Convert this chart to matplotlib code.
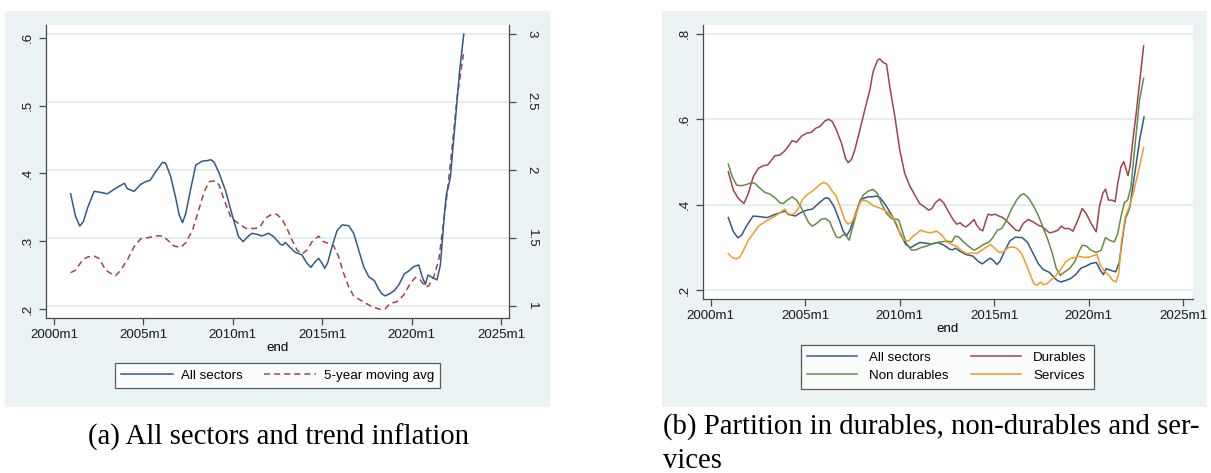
import matplotlib
matplotlib.use('Agg')
import matplotlib.pyplot as plt
from matplotlib.patches import Rectangle

W, H = 1211, 473

# All sectors (left axis of panel a, and panel b)
all_x = [2000.93, 2001.2, 2001.44, 2001.64, 2001.87, 2002.24, 2002.61, 2002.99, 2003.36, 2003.83,
         2003.94, 2004.1, 2004.48, 2004.85, 2005.13, 2005.38, 2005.69, 2006.07, 2006.25, 2006.53,
         2006.81, 2007.0, 2007.19, 2007.37, 2007.65, 2007.93, 2008.31, 2008.59, 2008.77, 2008.96,
         2009.24, 2009.61, 2009.99, 2010.32, 2010.58, 2010.88, 2011.07, 2011.35, 2011.63, 2012.0,
         2012.28, 2012.66, 2012.81, 2012.94, 2013.21, 2013.49, 2013.87, 2014.15, 2014.37, 2014.61,
         2014.8, 2014.99, 2015.14, 2015.31, 2015.55, 2015.83, 2016.11, 2016.48, 2016.76, 2017.04,
         2017.32, 2017.6, 2017.92, 2018.16, 2018.35, 2018.53, 2018.81, 2019.03, 2019.28, 2019.59,
         2019.84, 2020.12, 2020.4, 2020.59, 2020.77, 2020.92, 2021.14, 2021.42, 2021.61, 2021.84,
         2021.95, 2022.05, 2022.17, 2022.45, 2022.69, 2022.92]
all_y = [0.370, 0.337, 0.3227, 0.329, 0.3487, 0.3737, 0.3722, 0.370, 0.3767, 0.384,
         0.3855, 0.3777, 0.3737, 0.384, 0.388, 0.390, 0.4027, 0.4164, 0.415, 0.3953,
         0.3634, 0.339, 0.3276, 0.3413, 0.378, 0.4125, 0.4184, 0.419, 0.4204, 0.4164,
         0.4003, 0.3733, 0.3364, 0.307, 0.2996, 0.308, 0.3119, 0.3104, 0.308, 0.3119,
         0.307, 0.2957, 0.2947, 0.2986, 0.2908, 0.2839, 0.28, 0.2677, 0.2618, 0.2702,
         0.275, 0.2677, 0.2603, 0.2687, 0.2922, 0.3158, 0.3242, 0.3232, 0.3119, 0.2873,
         0.2628, 0.248, 0.2421, 0.2294, 0.2225, 0.2196, 0.2235, 0.2274, 0.2357, 0.252,
         0.2564, 0.2628, 0.2652, 0.248, 0.2367, 0.2505, 0.2471, 0.2432, 0.2652, 0.3413,
         0.370, 0.380, 0.395, 0.4788, 0.5524, 0.6054]

# 5-year moving average (right axis of panel a)
trend_x = [2000.93, 2001.21, 2001.59, 2001.87, 2002.24, 2002.52, 2002.89, 2003.17, 2003.45, 2003.73,
           2004.1, 2004.48, 2004.85, 2005.32, 2005.79, 2006.07, 2006.35, 2006.72, 2007.09, 2007.37,
           2007.75, 2008.12, 2008.4, 2008.68, 2009.01, 2009.24, 2009.52, 2009.89, 2010.26, 2010.73,
           2011.25, 2011.53, 2011.81, 2012.19, 2012.47, 2012.75, 2013.03, 2013.31, 2013.59, 2013.87,
           2014.15, 2014.43, 2014.8, 2015.08, 2015.36, 2015.64, 2015.92, 2016.2, 2016.48, 2016.76,
           2017.13, 2017.51, 2017.88, 2018.26, 2018.53, 2018.81, 2019.18, 2019.56, 2019.93, 2020.21,
           2020.49, 2020.77, 2020.96, 2021.24, 2021.52, 2021.71, 2021.99, 2022.27, 2022.55, 2022.9]
trend_y = [1.245, 1.264, 1.338, 1.36, 1.367, 1.35, 1.264, 1.24, 1.223, 1.264,
           1.338, 1.436, 1.494, 1.504, 1.516, 1.514, 1.485, 1.44, 1.431, 1.465,
           1.558, 1.717, 1.839, 1.913, 1.92, 1.888, 1.778, 1.651, 1.612, 1.57,
           1.570, 1.582, 1.644, 1.675, 1.673, 1.639, 1.57, 1.485, 1.411, 1.382,
           1.411, 1.472, 1.514, 1.472, 1.46, 1.443, 1.362, 1.24, 1.142, 1.073,
           1.044, 1.015, 0.99, 0.976, 0.98, 1.02, 1.032, 1.081, 1.166, 1.21,
           1.191, 1.142, 1.149, 1.215, 1.338, 1.534, 1.827, 2.17, 2.537, 2.85]

dur_x = [2000.93, 2001.2, 2001.46, 2001.76, 2001.99, 2002.25, 2002.52, 2002.78, 2003.01, 2003.22,
         2003.4, 2003.66, 2003.93, 2004.19, 2004.31, 2004.54, 2004.81, 2005.07, 2005.33, 2005.55,
         2005.77, 2006.04, 2006.25, 2006.43, 2006.65, 2006.92, 2007.13, 2007.27, 2007.45, 2007.62,
         2007.89, 2008.15, 2008.42, 2008.59, 2008.82, 2008.94, 2009.12, 2009.3, 2009.47, 2009.74,
         2010.0, 2010.26, 2010.53, 2010.8, 2011.05, 2011.35, 2011.53, 2011.7, 2011.88, 2012.11,
         2012.32, 2012.58, 2012.84, 2013.02, 2013.19, 2013.37, 2013.51, 2013.72, 2013.93, 2014.07,
         2014.25, 2014.39, 2014.56, 2014.68, 2014.86, 2015.04, 2015.21, 2015.44, 2015.65, 2015.91,
         2016.14, 2016.32, 2016.53, 2016.79, 2017.05, 2017.32, 2017.54, 2017.75, 2017.93, 2018.14,
         2018.37, 2018.54, 2018.72, 2018.95, 2019.16, 2019.42, 2019.65, 2019.86, 2020.12, 2020.39,
         2020.56, 2020.74, 2020.88, 2021.04, 2021.23, 2021.39, 2021.53, 2021.7, 2021.85, 2022.07,
         2022.18, 2022.35, 2022.5, 2022.68, 2022.9]
dur_y = [0.4773, 0.4344, 0.4148, 0.4031, 0.4266, 0.4656, 0.4852, 0.4914, 0.493, 0.5047,
         0.5148, 0.5164, 0.5266, 0.5422, 0.55, 0.5461, 0.5609, 0.5672, 0.5695, 0.5789,
         0.5828, 0.5961, 0.600, 0.5945, 0.575, 0.5438, 0.5086, 0.4984, 0.5063, 0.5281,
         0.575, 0.6219, 0.6688, 0.7117, 0.7375, 0.7414, 0.7328, 0.7289, 0.6766, 0.6063,
         0.5281, 0.4734, 0.4441, 0.4227, 0.4031, 0.3938, 0.3875, 0.3914, 0.4047, 0.4133,
         0.4047, 0.3836, 0.3641, 0.3547, 0.3578, 0.3508, 0.3484, 0.3563, 0.3656, 0.3523,
         0.3422, 0.3391, 0.3641, 0.3781, 0.3758, 0.3781, 0.3742, 0.3703, 0.3625, 0.3508,
         0.3406, 0.3391, 0.3563, 0.3656, 0.3602, 0.3523, 0.3484, 0.3406, 0.3344, 0.3367,
         0.3406, 0.350, 0.3445, 0.3445, 0.3383, 0.3641, 0.3914, 0.3797, 0.3563, 0.3367,
         0.3953, 0.4266, 0.4367, 0.4109, 0.4109, 0.407, 0.450, 0.4891, 0.5008, 0.4680,
         0.4891, 0.5594, 0.612, 0.684, 0.7715]

nondur_x = [2000.93, 2001.14, 2001.37, 2001.64, 2001.9, 2002.17, 2002.34, 2002.61, 2002.87, 2003.13,
            2003.4, 2003.66, 2003.84, 2004.1, 2004.31, 2004.54, 2004.77, 2004.98, 2005.19, 2005.37,
            2005.6, 2005.86, 2006.07, 2006.3, 2006.48, 2006.65, 2006.83, 2007.01, 2007.18, 2007.32,
            2007.54, 2007.8, 2008.06, 2008.33, 2008.59, 2008.82, 2009.03, 2009.3, 2009.56, 2009.82,
            2009.95, 2010.12, 2010.35, 2010.62, 2010.85, 2011.09, 2011.44, 2011.79, 2012.14, 2012.49,
            2012.75, 2012.93, 2013.11, 2013.37, 2013.68, 2013.93, 2014.16, 2014.42, 2014.74, 2014.95,
            2015.16, 2015.39, 2015.65, 2015.91, 2016.18, 2016.4, 2016.56, 2016.79, 2017.05, 2017.32,
            2017.58, 2017.84, 2018.07, 2018.28, 2018.49, 2018.72, 2018.98, 2019.25, 2019.47, 2019.65,
            2019.86, 2020.12, 2020.39, 2020.65, 2020.88, 2021.09, 2021.35, 2021.53, 2021.7, 2021.88,
            2022.05, 2022.23, 2022.4, 2022.68, 2022.9]
nondur_y = [0.4953, 0.4656, 0.4461, 0.4445, 0.4477, 0.4516, 0.450, 0.4383, 0.4289, 0.425,
            0.4164, 0.4047, 0.4031, 0.4125, 0.4188, 0.4109, 0.3953, 0.3758, 0.3578, 0.350,
            0.3563, 0.3664, 0.368, 0.3602, 0.3406, 0.325, 0.3227, 0.3305, 0.3266, 0.3172,
            0.3523, 0.3953, 0.4227, 0.432, 0.4359, 0.4266, 0.4031, 0.3797, 0.368, 0.3664,
            0.3641, 0.3406, 0.3094, 0.2938, 0.2945, 0.2992, 0.3039, 0.3094, 0.3133, 0.3148,
            0.3133, 0.3266, 0.325, 0.3133, 0.3016, 0.2938, 0.2992, 0.307, 0.3133, 0.325,
            0.3406, 0.3445, 0.3641, 0.3898, 0.4109, 0.4227, 0.4258, 0.4172, 0.3992, 0.3758,
            0.3469, 0.3172, 0.2859, 0.2508, 0.2352, 0.243, 0.2508, 0.2664, 0.2898, 0.3055,
            0.3039, 0.2938, 0.2883, 0.2938, 0.3234, 0.3172, 0.3133, 0.3328, 0.3719, 0.4047,
            0.4109, 0.4422, 0.5203, 0.645, 0.6959]

serv_x = [2000.93, 2001.14, 2001.37, 2001.55, 2001.78, 2001.99, 2002.25, 2002.55, 2002.87, 2003.13,
          2003.4, 2003.66, 2003.84, 2003.93, 2004.07, 2004.28, 2004.45, 2004.63, 2004.84, 2005.07,
          2005.33, 2005.55, 2005.77, 2005.99, 2006.18, 2006.39, 2006.65, 2006.88, 2007.1, 2007.27,
          2007.48, 2007.71, 2007.92, 2008.1, 2008.33, 2008.59, 2008.86, 2009.12, 2009.38, 2009.65,
          2009.86, 2010.05, 2010.26, 2010.48, 2010.7, 2010.9, 2011.09, 2011.35, 2011.61, 2011.96,
          2012.23, 2012.49, 2012.75, 2013.02, 2013.28, 2013.54, 2013.81, 2014.07, 2014.33, 2014.6,
          2014.81, 2015.04, 2015.26, 2015.47, 2015.74, 2016.0, 2016.21, 2016.44, 2016.67, 2016.88,
          2017.09, 2017.26, 2017.44, 2017.58, 2017.79, 2018.02, 2018.28, 2018.54, 2018.77, 2019.02,
          2019.25, 2019.51, 2019.77, 2020.04, 2020.3, 2020.44, 2020.6, 2020.82, 2021.05, 2021.26,
          2021.44, 2021.58, 2021.74, 2021.93, 2022.14, 2022.35, 2022.68, 2022.9]
serv_y = [0.2859, 0.2766, 0.2734, 0.2781, 0.2977, 0.3172, 0.3328, 0.3508, 0.3602, 0.3664,
          0.3734, 0.3813, 0.3875, 0.3898, 0.3797, 0.3773, 0.3797, 0.3914, 0.4109, 0.4227,
          0.4305, 0.4383, 0.4477, 0.4523, 0.4477, 0.4344, 0.4188, 0.3914, 0.3641, 0.3547,
          0.3602, 0.3813, 0.407, 0.4109, 0.407, 0.3977, 0.3938, 0.3891, 0.382, 0.3703,
          0.3547, 0.3266, 0.3172, 0.3156, 0.3266, 0.333, 0.3406, 0.3367, 0.3344, 0.3383,
          0.3289, 0.3133, 0.307, 0.3031, 0.2922, 0.2859, 0.2875, 0.2859, 0.2938, 0.3016,
          0.307, 0.2977, 0.2883, 0.2898, 0.300, 0.3016, 0.2977, 0.2859, 0.2625, 0.2391,
          0.2156, 0.2117, 0.2195, 0.2133, 0.2156, 0.225, 0.2352, 0.2508, 0.2664, 0.2742,
          0.2766, 0.2797, 0.2766, 0.2781, 0.282, 0.2836, 0.2586, 0.2453, 0.2352, 0.2234,
          0.2195, 0.2391, 0.3172, 0.3719, 0.3953, 0.4266, 0.489, 0.5336]

x_ticks = [2000, 2005, 2010, 2015, 2020, 2025]
x_labels = ['2000m1', '2005m1', '2010m1', '2015m1', '2020m1', '2025m1']

BG = '#eaf2f3'
GRID = '#e1eaee'
AXIS = '#4a4a4a'
BLUE = '#2f5b88'
RED = '#a0434c'
GREEN = '#678a44'
ORANGE = '#f29a26'
SANS = 'Liberation Sans'
FS = 9.6


def box(x0, y0, x1, y1):
    return [x0 / W, 1 - y1 / H, (x1 - x0) / W, (y1 - y0) / H]


def fig_pt(x, y):
    return (x / W, 1 - y / H)


def style_axis(ax):
    ax.set_facecolor('white')
    for side in ['top', 'right']:
        ax.spines[side].set_visible(False)
    for side in ['left', 'bottom']:
        ax.spines[side].set_color(AXIS)
        ax.spines[side].set_linewidth(0.9)
    ax.tick_params(direction='out', length=5, width=0.9, color=AXIS,
                   labelsize=FS, labelcolor='#1a1a1a')
    ax.tick_params(axis='x', pad=3)
    ax.tick_params(axis='y', pad=3.5)
    ax.set_xticks(x_ticks)
    ax.set_xticklabels(x_labels, fontfamily=SANS)
    ax.set_xlabel('end', fontfamily=SANS, fontsize=FS, labelpad=0.5)
    for lab in ax.get_yticklabels():
        lab.set_rotation(90)
        lab.set_va('center')
        lab.set_fontfamily(SANS)


def decimal_label(v):
    return ('%.1f' % v).lstrip('0')


def panel_a(fig):
    ax = fig.add_axes(box(46, 25, 509, 318.3))
    ax.set_xlim(1999.552, 2025.448)
    ax.set_ylim(0.1867, 0.6187)
    yt = [0.2, 0.3, 0.4, 0.5, 0.6]
    ax.set_yticks(yt)
    ax.set_yticklabels([decimal_label(v) for v in yt])
    style_axis(ax)

    ax2 = ax.twinx()
    ax2.set_ylim(0.91, 3.064)
    rt = [1, 1.5, 2, 2.5, 3]
    ax2.set_yticks(rt)
    ax2.set_yticklabels(['1', '1.5', '2', '2.5', '3'], rotation=-90, va='center', fontfamily=SANS)
    for side in ['top', 'left', 'bottom']:
        ax2.spines[side].set_visible(False)
    ax2.spines['right'].set_color(AXIS)
    ax2.spines['right'].set_linewidth(0.9)
    ax2.tick_params(direction='out', length=5, width=0.9, color=AXIS, labelsize=FS,
                    labelcolor='#1a1a1a', pad=7)
    for v in rt:
        ax2.axhline(v, color=GRID, lw=1.3, zorder=0)

    l1, = ax.plot(all_x, all_y, color=BLUE, lw=1.1, zorder=3)
    l2, = ax2.plot(trend_x, trend_y, color=RED, lw=1.1, dashes=(4, 2.6))
    ax.set_zorder(ax2.get_zorder() + 1)
    ax.patch.set_visible(False)
    ax2.patch.set_visible(True)
    ax2.patch.set_facecolor('white')

    leg = ax.legend([l1, l2], ['All sectors', '5-year moving avg'], loc='center',
                    bbox_to_anchor=fig_pt(277.5, 375.5), bbox_transform=fig.transFigure,
                    ncol=2, frameon=True, fancybox=False, handlelength=3.9, handletextpad=0.6,
                    columnspacing=1.6, borderpad=0.45, prop={'family': SANS, 'size': FS})
    leg.get_frame().set_edgecolor('#333333')
    leg.get_frame().set_linewidth(0.9)


def panel_b(fig):
    ax = fig.add_axes(box(702.7, 25, 1193, 299))
    ax.set_xlim(1999.577, 2025.51)
    ax.set_ylim(0.1797, 0.8204)
    yt = [0.2, 0.4, 0.6, 0.8]
    ax.set_yticks(yt)
    ax.set_yticklabels([decimal_label(v) for v in yt])
    style_axis(ax)
    for v in yt:
        ax.axhline(v, color=GRID, lw=1.3, zorder=0)

    l1, = ax.plot(all_x, all_y, color=BLUE, lw=1.1)
    l2, = ax.plot(dur_x, dur_y, color=RED, lw=1.1)
    l3, = ax.plot(nondur_x, nondur_y, color=GREEN, lw=1.1)
    l4, = ax.plot(serv_x, serv_y, color=ORANGE, lw=1.1)

    leg = ax.legend([l1, l3, l2, l4], ['All sectors', 'Non durables', 'Durables', 'Services'],
                    loc='center', bbox_to_anchor=fig_pt(947, 366.5),
                    bbox_transform=fig.transFigure, ncol=2, frameon=True, fancybox=False,
                    handlelength=3.75, handletextpad=0.9, columnspacing=1.7, borderpad=0.5,
                    labelspacing=0.45, prop={'family': SANS, 'size': FS})
    leg.get_frame().set_edgecolor('#333333')
    leg.get_frame().set_linewidth(0.9)


def main():
    fig = plt.figure(figsize=(W / 100, H / 100), dpi=100)
    fig.patch.set_facecolor('white')
    # grey-blue panel backgrounds, kept behind the axes
    fig.patches.append(Rectangle(fig_pt(5, 407), 545 / W, 396 / H, transform=fig.transFigure,
                                 facecolor=BG, edgecolor='none', zorder=-10))
    fig.patches.append(Rectangle(fig_pt(662, 407), 545 / W, 396 / H, transform=fig.transFigure,
                                 facecolor=BG, edgecolor='none', zorder=-10))

    panel_a(fig)
    panel_b(fig)

    serif = 'Liberation Serif'
    fig.text(278.5 / W, 1 - 437 / H, '(a) All sectors and trend inflation', ha='center',
             va='center', fontsize=20.7, fontfamily=serif)
    fig.text(663 / W, 1 - 427 / H, '(b) Partition in durables, non-durables and ser-',
             ha='left', va='center', fontsize=20.7, fontfamily=serif)
    fig.text(663 / W, 1 - 461 / H, 'vices', ha='left', va='center', fontsize=20.7,
             fontfamily=serif)

    fig.savefig('out.png', dpi=100)


if __name__ == '__main__':
    main()
